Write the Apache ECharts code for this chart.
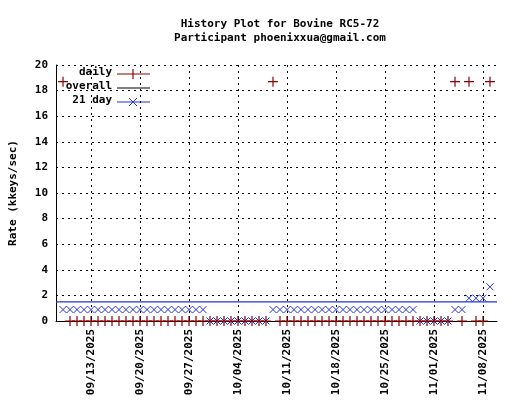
<!DOCTYPE html>
<html>
<head>
<meta charset="utf-8">
<script src="https://cdn.jsdelivr.net/npm/echarts@6/dist/echarts.min.js"></script>
<style>html,body{margin:0;padding:0;background:#fff}#main{width:520px;height:400px}</style>
</head>
<body>
<div id="main"></div>
<script>
// days 09/08/2025 .. 11/10/2025 (axis padding day on each side)
var dates = [];
for (var i = 0; i < 64; i++) {
    var d = new Date(2025, 8, 8 + i);
    dates.push(('0' + (d.getMonth() + 1)).slice(-2) + '/' + ('0' + d.getDate()).slice(-2) + '/' + d.getFullYear());
}
var weekLabels = ['09/13/2025', '09/20/2025', '09/27/2025', '10/04/2025', '10/11/2025',
    '10/18/2025', '10/25/2025', '11/01/2025', '11/08/2025'];

var H = 18.7, A = 0.89, B = 1.78, C = 2.67;
var daily = [null,
    H, 0, 0, 0, 0, 0, 0, 0, 0, 0, 0, 0, 0, 0, 0, 0, 0, 0, 0, 0, 0,
    0, 0, 0, 0, 0, 0, 0, 0, 0,
    H, 0, 0, 0, 0, 0, 0, 0, 0, 0, 0, 0, 0, 0, 0, 0, 0, 0, 0, 0, 0,
    0, 0, 0, 0, 0,
    H, 0, H, 0, 0, H,
    null];
var day21 = [null,
    A, A, A, A, A, A, A, A, A, A, A, A, A, A, A, A, A, A, A, A, A,
    0, 0, 0, 0, 0, 0, 0, 0, 0,
    A, A, A, A, A, A, A, A, A, A, A, A, A, A, A, A, A, A, A, A, A,
    0, 0, 0, 0, 0,
    A, A, B, B, B, C,
    null];
var overallRate = 1.5;
var overall = dates.map(function () { return overallRate; });

var font = 'DejaVu Sans Mono';
var red = '#8b0000', blue = '#2233dd';
var isWeek = function (idx) { return weekLabels.indexOf(dates[idx]) >= 0; };
var txt = { fontFamily: font, fontSize: 11, fontWeight: 'bold', fill: '#000' };

function legendRow(y, label, color, mark) {
    var els = [
        { type: 'text', left: 'auto', x: 112, y: y - 7, style: Object.assign({ text: label, textAlign: 'right' }, txt) },
        { type: 'line', shape: { x1: 117, y1: y, x2: 150, y2: y }, style: { stroke: color, lineWidth: 1.2 } }
    ];
    if (mark === '+') {
        els.push({ type: 'line', shape: { x1: 133, y1: y - 5, x2: 133, y2: y + 5 }, style: { stroke: color, lineWidth: 1.2 } });
    } else if (mark === 'x') {
        els.push({ type: 'line', shape: { x1: 129, y1: y - 4, x2: 137, y2: y + 4 }, style: { stroke: color } });
        els.push({ type: 'line', shape: { x1: 129, y1: y + 4, x2: 137, y2: y - 4 }, style: { stroke: color } });
    }
    return els;
}

var myChart = echarts.init(document.getElementById('main'));
myChart.setOption({
    animation: false,
    textStyle: { fontFamily: font },
    title: {
        text: 'History Plot for Bovine RC5-72\nParticipant phoenixxua@gmail.com',
        left: 275, top: 12, textAlign: 'center',
        textStyle: { fontFamily: font, fontSize: 11, fontWeight: 'bold', color: '#000', lineHeight: 14 }
    },
    graphic: [].concat(
        [{ type: 'rect', shape: { x: 56, y: 67, width: 98, height: 42 }, style: { fill: '#fff' } }],
        legendRow(74, 'daily', red, '+'),
        legendRow(88, 'overall', '#000', ''),
        legendRow(102, '21 day', blue, 'x')
    ),
    grid: { left: 54, right: 23, top: 65, bottom: 79 },
    xAxis: {
        type: 'category', data: dates, boundaryGap: false,
        axisLine: { lineStyle: { color: '#000' } },
        axisTick: { show: true, interval: isWeek, inside: true, length: 5, lineStyle: { color: '#000' } },
        axisLabel: { interval: isWeek, rotate: 90, color: '#000', fontSize: 11, fontWeight: 'bold', fontFamily: font },
        splitLine: { show: true, interval: isWeek, lineStyle: { color: '#000', type: [2, 4] } }
    },
    yAxis: {
        type: 'value', min: 0, max: 20, interval: 2,
        name: 'Rate (kkeys/sec)', nameLocation: 'middle', nameGap: 37,
        nameTextStyle: { fontFamily: font, fontSize: 11, fontWeight: 'bold', color: '#000' },
        axisLine: { show: true, lineStyle: { color: '#000' } },
        axisTick: { inside: true, length: 5, lineStyle: { color: '#000' } },
        axisLabel: { color: '#000', fontSize: 11, fontWeight: 'bold', fontFamily: font },
        splitLine: { lineStyle: { color: '#000', type: [2, 4] } }
    },
    series: [
        {
            name: 'overall', type: 'line', data: overall, color: blue,
            symbol: 'none', lineStyle: { width: 1.2 }, z: 1
        },
        {
            name: '21 day', type: 'line', data: day21, color: blue,
            symbol: 'path://M0,0L10,10M0,10L10,0', symbolSize: 7, showSymbol: true, showAllSymbol: true,
            itemStyle: { color: 'none', borderColor: blue, borderWidth: 1 },
            lineStyle: { width: 1 }, z: 2
        },
        {
            name: 'daily', type: 'line', data: daily, color: red,
            symbol: 'path://M5,0L5,10M0,5L10,5', symbolSize: 10, showSymbol: true, showAllSymbol: true,
            itemStyle: { color: 'none', borderColor: red, borderWidth: 1.2 },
            lineStyle: { width: 1.2 }, z: 3
        }
    ]
});
</script>
</body>
</html>
